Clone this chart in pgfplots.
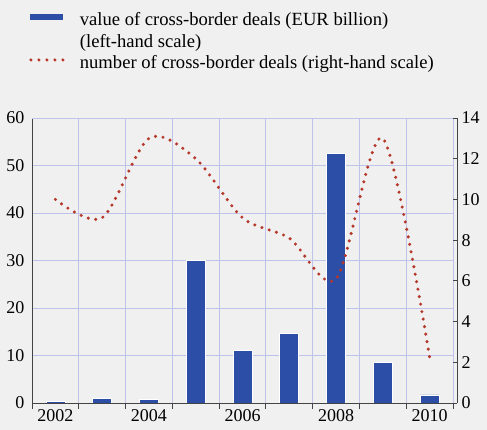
\documentclass[border=0pt]{standalone}
\usepackage{pgfplots}
\pgfplotsset{compat=1.18}
\usepackage{fontspec}
\setmainfont{Liberation Serif}
\definecolor{bg}{HTML}{F0F0F0}
\definecolor{gridc}{HTML}{BFC3EA}
\definecolor{barc}{HTML}{2C4EA6}
\definecolor{linec}{HTML}{B5382B}
\definecolor{axc}{HTML}{444444}
\newcommand{\cf}{\fontsize{18bp}{21.5bp}\selectfont}
\newcommand{\lf}{\fontsize{18.6bp}{21.5bp}\selectfont}
\pgfplotsset{
  common/.style={
    at={(32bp,27bp)}, anchor=south west,
    scale only axis, height=285bp,
    xmin=-0.5,
    /pgf/number format/assume math mode=true,
    ticklabel style={font=\cf},
    axis line style={axc, line width=0.8bp},
  }
}
\begin{document}
\begin{tikzpicture}[font=\cf]
\fill[bg] (0,0) rectangle (487bp,430bp);
\useasboundingbox (0,0) rectangle (487bp,430bp);
\begin{axis}[common, name=ax1, width=421bp, xmax=8.5,
  ymin=0, ymax=60, ytick={0,10,...,60},
  axis x line*=bottom, axis y line*=left,
  xtick={0,2,4,6,8}, xticklabels={2002,2004,2006,2008,2010},
  minor xtick={-0.5,0.5,...,8.5},
  major tick length=0pt, minor tick length=6bp,
  tick align=outside, tick style={axc, line width=0.8bp},
  xminorgrids=true, ymajorgrids=true, xmajorgrids=false,
  grid style={gridc, line width=0.8bp},
  minor grid style={gridc, line width=0.8bp},
  yticklabel style={xshift=-4bp},
  xticklabel style={yshift=-3bp},
]
\addplot[ybar, bar width=19bp, fill=barc, draw=white, line width=0.6bp] coordinates {
(0,0.3) (1,1.0) (2,0.8) (3,30.0) (4,11.0) (5,14.7) (6,52.6) (7,8.6) (8,1.7)
};
\draw[gridc, line width=0.8bp] (axis cs:-0.5,60) -- (axis cs:8.5,60);
\draw[gridc, line width=0.8bp] (axis cs:8.5,0) -- (axis cs:8.5,60);
\end{axis}
\draw[axc, line width=0.8bp] (32bp,27bp) ++(421bp,0) -- ++(4.4bp,0);
\begin{axis}[common, width=425bp, xmax=8.5855,
  ymin=0, ymax=14, ytick={0,2,...,14},
  axis y line*=right, axis x line=none,
  tick align=inside, major tick length=4bp,
  tick style={axc, line width=0.8bp},
  yticklabel style={xshift=1bp},
  legend style={at={(-0.0195,1.385)}, anchor=north west, draw=none, fill=none,
    font=\lf, row sep=3bp,
    /tikz/every odd column/.append style={column sep=12bp}},
  legend cell align=left,
]
\addlegendimage{legend image code/.code={\draw[barc, line width=6bp] (0bp,0.3em) -- (33bp,0.3em);}}
\addlegendentry{value of cross-border deals (EUR billion)}
\addlegendimage{empty legend}
\addlegendentry{(left-hand scale)}
\addplot[linec, line width=3.4bp, line cap=round, dash pattern=on 0pt off 7.6bp, smooth,
  legend image code/.code={\draw[linec, line width=3.4bp, line cap=round, dash pattern=on 0pt off 8bp] (1bp,0.3em) -- (34bp,0.3em);}]
coordinates {
(0,10.0) (1,9.1) (2,13.0) (3,12.0) (4,9.1) (5,8.1) (6,6.1) (7,13.0) (8,2.25)
};
\addlegendentry{number of cross-border deals (right-hand scale)}
\end{axis}
\end{tikzpicture}
\end{document}
